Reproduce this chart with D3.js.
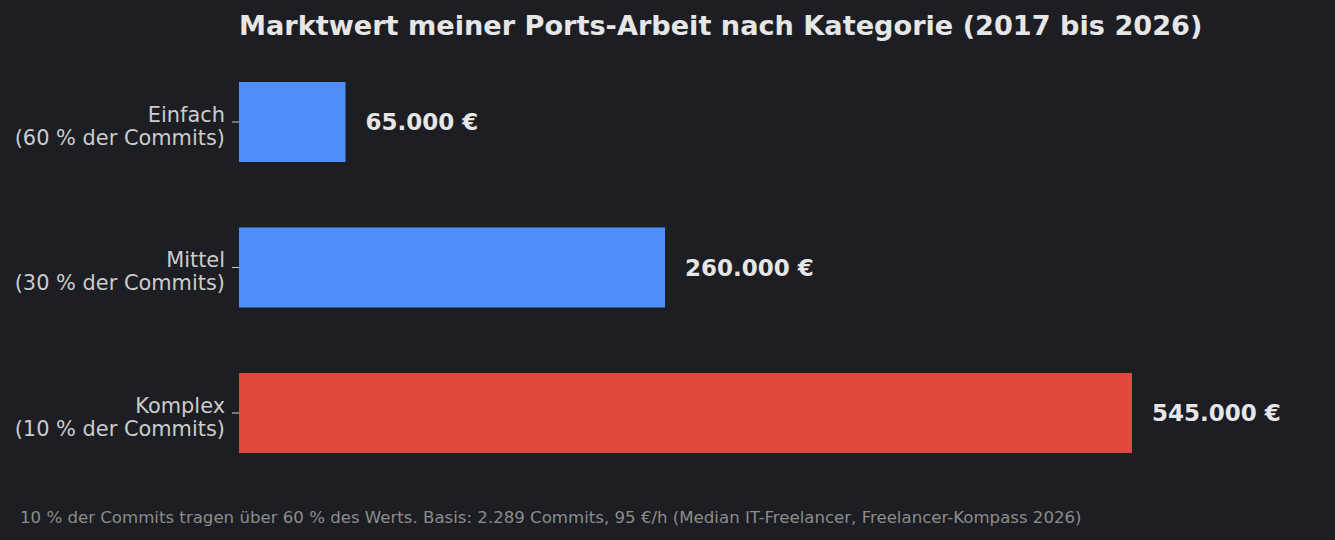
<!DOCTYPE html>
<html>
<head>
<meta charset="utf-8">
<script src="https://cdn.jsdelivr.net/npm/d3@7"></script>
<style>
    html, body { margin: 0; padding: 0; background: #1c1e23; }
    svg { display: block; font-family: "DejaVu Sans", sans-serif; }
</style>
</head>
<body>
<svg id="chart" width="1335" height="540"></svg>
<script>
const categories = ["Einfach", "Mittel", "Komplex"];
const shares = ["(60 % der Commits)", "(30 % der Commits)", "(10 % der Commits)"];
const values = [65000, 260000, 545000];
const valueLabels = ["65.000 €", "260.000 €", "545.000 €"];
const barColors = ["#4f8ef7", "#4f8ef7", "#e0493e"];

const title = "Marktwert meiner Ports-Arbeit nach Kategorie (2017 bis 2026)";
const footnote = "10 % der Commits tragen über 60 % des Werts. Basis: 2.289 Commits, 95 €/h (Median IT-Freelancer, Freelancer-Kompass 2026)";

window.addEventListener("DOMContentLoaded", draw);

function draw() {
    const svg = d3.select("#chart");
    const left = 239;

    const x = d3.scaleLinear()
          .domain([0, 600000])
          .range([left, left + 600000 * 893 / 545000]);

    const y = d3.scaleBand()
          .domain(categories)
          .range([49.25, 485.75])
          .paddingInner(0.45)
          .paddingOuter(0.225);

    // title
    svg.append("text")
        .attr("x", left)
        .attr("y", 35)
        .attr("fill", "#e6e6e6")
        .attr("font-size", 27.15)
        .attr("font-weight", "bold")
        .text(title);

    // bars
    svg.selectAll(".bar")
        .data(values)
        .enter().append("rect")
        .attr("class", "bar")
        .attr("x", x(0))
        .attr("y", (d, i) => y(categories[i]))
        .attr("width", (d) => x(d) - x(0))
        .attr("height", y.bandwidth())
        .attr("fill", (d, i) => barColors[i]);

    // value labels
    svg.selectAll(".val")
        .data(values)
        .enter().append("text")
        .attr("class", "val")
        .attr("x", (d) => x(d) + 20)
        .attr("y", (d, i) => y(categories[i]) + y.bandwidth() / 2)
        .attr("dy", "0.36em")
        .attr("fill", "#e6e6e6")
        .attr("font-size", 23)
        .attr("font-weight", "bold")
        .text((d, i) => valueLabels[i]);

    // y axis with two-line tick labels
    const axis = svg.append("g")
          .attr("transform", `translate(${left},0)`)
          .call(d3.axisLeft(y).tickSize(7).tickPadding(7).tickFormat(""))
          .attr("font-family", "DejaVu Sans, sans-serif");
    axis.select(".domain").remove();
    axis.selectAll(".tick line").attr("stroke", "#cccccc").attr("stroke-width", 1);
    axis.selectAll(".tick text").remove();
    axis.selectAll(".tick").each(function(d, i) {
        const t = d3.select(this).append("text")
              .attr("x", -14)
              .attr("fill", "#cccccc")
              .attr("font-size", 20.9)
              .attr("text-anchor", "end");
        t.append("tspan").attr("x", -14).attr("y", -0.5).text(d);
        t.append("tspan").attr("x", -14).attr("y", 22.5).text(shares[i]);
    });

    // footnote
    svg.append("text")
        .attr("x", 20)
        .attr("y", 522.5)
        .attr("fill", "#8c8c8c")
        .attr("font-size", 16.6)
        .text(footnote);
}
</script>
</body>
</html>
